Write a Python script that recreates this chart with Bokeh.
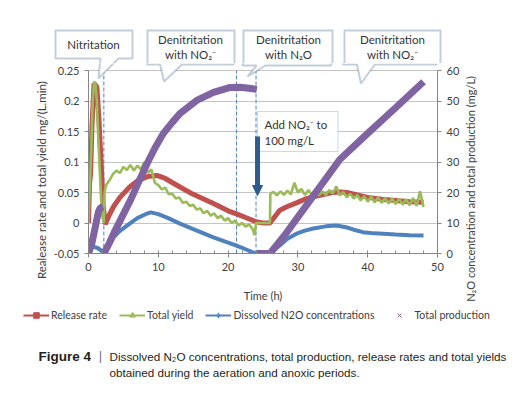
import math
import numpy as np
from bokeh.plotting import figure
from bokeh.layouts import column, row
from bokeh.models import (Range1d, LinearAxis, FixedTicker, CustomJSTickFormatter,
                          PolyAnnotation, Label, Arrow, NormalHead, Legend, LegendItem)
from bokeh.embed import file_html
from bokeh.resources import INLINE

nan = float("nan")

# ---------------- data ----------------
# Release rate, mg/(L.min)  (left axis)
release_t = [0, 0.15, 0.3, 0.5, 0.8, 1.2, 1.5, 1.8, 2.1, 2.4, 3.0, 3.6, 4.5, 5.9, 7.0, 8.4, 9.8,
             11.0, 13.1, 15.0, 17.9, 20.0, 21.2, 22.5, 24.0, 25.0, 26.0, 27.4, 28.5, 29.8, 31.0,
             32.2, 34.6, 36.0, 37.0, 38.5, 40.0, 42.0, 44.0, 46.0, 48.0]
release_v = [0, 0.065, 0.08, 0.16, 0.229, 0.223, 0.17, 0.10, 0.03, -0.002, 0.014, 0.027, 0.042,
             0.059, 0.069, 0.076, 0.078, 0.073, 0.059, 0.047, 0.032, 0.020, 0.015, 0.009, 0.002,
             0.0, 0.0, 0.021, 0.027, 0.033, 0.039, 0.043, 0.049, 0.051, 0.050, 0.046, 0.042,
             0.039, 0.037, 0.035, 0.034]

# Total yield, mg/(L.min)  (left axis)
yield_t = [0.0, 0.2, 0.4, 0.6, 0.8, 1.0, 1.2, 1.4, 1.6, 1.8, 2.0, 2.2, 2.3, 2.5, 3.0, 3.5, 4.0,
           4.5, 5.0, 5.5, 6.0, 6.5, 7.0, 7.5, 8.0, 8.5, 9.0, 9.5, 10.0, 10.5, 11.0, 11.5, 12.0,
           12.5, 13.0, 13.5, 14.0, 14.5, 15.0, 15.5, 16.0, 16.5, 17.0, 17.5, 18.0, 18.5, 19.0,
           19.5, 20.0, 20.5, 21.0, 21.5, 22.0, 22.5, 23.0, 23.5, 23.8, 24.0, 26.0, 26.05, 26.5,
           27.0, 27.5, 28.0, 28.5, 29.0, 29.5, 30.0, 30.5, 31.0, 31.5, 32.0, 32.5, 33.0, 33.5,
           34.0, 34.5, 35.0, 35.5, 36.0, 36.5, 37.0, 37.5, 38.0, 38.5, 39.0, 39.5, 40.0, 40.5,
           41.0, 41.5, 42.0, 42.5, 43.0, 43.5, 44.0, 44.5, 45.0, 45.5, 46.0, 46.5, 47.0, 47.5,
           48.0]
yield_v = [0.0, 0.06, 0.12, 0.20, 0.232, 0.228, 0.20, 0.14, 0.09, 0.04, 0.01, 0.0, 0.05, 0.062,
           0.07, 0.08, 0.086, 0.082, 0.092, 0.087, 0.095, 0.086, 0.094, 0.088, 0.10, 0.082,
           0.088, 0.066, 0.062, 0.055, 0.058, 0.047, 0.048, 0.040, 0.042, 0.033, 0.035, 0.028,
           0.030, 0.022, 0.024, 0.016, 0.020, 0.012, 0.016, 0.008, 0.012, 0.004, 0.008, 0.0,
           0.004, -0.004, 0.0, -0.006, -0.002, -0.010, -0.020, 0.0, 0.0, 0.048, 0.051, 0.045,
           0.052, 0.046, 0.053, 0.047, 0.066, 0.050, 0.056, 0.046, 0.054, 0.046, 0.053, 0.045,
           0.052, 0.046, 0.054, 0.048, 0.060, 0.045, 0.051, 0.042, 0.048, 0.040, 0.046, 0.037,
           0.044, 0.035, 0.043, 0.034, 0.042, 0.033, 0.041, 0.032, 0.040, 0.031, 0.040, 0.030,
           0.039, 0.029, 0.041, 0.028, 0.052, 0.026]

# Dissolved N2O concentration, mg/L  (right axis)
dissolved_t = [0, 0.3, 0.8, 1.3, 1.8, 2.2, 2.6, 3.6, 4.5, 5.9, 7.0, 8.4, 8.9, 10.0, 11.5, 13.1,
               15.0, 17.9, 20.0, 21.2, 22.5, 23.8, 24.5, 26.0, 27.4, 28.5, 29.8, 31.0, 32.2,
               34.0, 35.5, 36.9, 38.0, 39.3, 41.0, 44.0, 46.0, 48.0]
dissolved_v = [0.5, 1.8, 2.2, 1.8, 1.0, 0.0, 1.5, 5.3, 7.4, 9.8, 11.6, 13.1, 13.5, 12.9, 11.5,
               9.8, 8.0, 5.3, 3.6, 2.6, 1.4, 0.1, 0.0, 0.0, 2.6, 4.8, 6.5, 7.5, 8.2, 8.9, 9.2,
               8.6, 7.8, 7.0, 6.6, 6.2, 6.0, 5.9]

# Total production, mg/L  (right axis); nan separates the three periods
production_t = [0, 0.5, 1.0, 1.4, 1.7, 2.1, nan,
                2.2, 3.0, 3.6, 4.8, 6.0, 7.2, 8.4, 9.5, 10.7, 12.0, 13.1, 15.5, 17.9, 20.2,
                21.7, 23.0, 24.1, nan,
                24.1, 26.0, 28.1, 32.5, 36.0, 40.0, 44.0, 48.0]
production_v = [0, 3.5, 9.0, 13.5, 15.0, 15.3, nan,
                0, 3.5, 6.5, 12.0, 17.4, 23.5, 29.5, 34.5, 39.3, 43.0, 45.9, 50.2, 52.8, 54.4,
                54.5, 54.2, 53.8, nan,
                0, 0, 6.0, 19.8, 30.8, 39.4, 47.8, 56.3]

phase_lines = [2.2, 21.2, 24.0]
x_ticks = [0, 10, 20, 30, 40, 50]
left_ticks = [-0.05, 0, 0.05, 0.1, 0.15, 0.2, 0.25]
right_ticks = [0, 10, 20, 30, 40, 50, 60]

RED, GREEN, BLUE, PURPLE = "#c0504d", "#9bbb59", "#4f81bd", "#8064a2"
SHAPE = "#385d8a"
TXT = "#404040"
FONT = "Lato"

# ---------------- page layout (pixels) ----------------
TOP = 63          # main plot starts here (page y)
BOT = 305         # main plot ends here
PL, PR = 50, 462  # main plot left / right page x


def dx(px):
    return (px - 88) / 7.02


def dy(py):
    return -0.05 + (253 - py) / 183 * 0.30


def dr(py):
    return (253 - py) / 183 * 60


def strip(x0, x1, y0, y1):
    f = figure(width=x1 - x0, height=y1 - y0, output_backend="svg", toolbar_location=None,
               x_range=Range1d(x0, x1), y_range=Range1d(y1, y0),
               x_axis_type=None, y_axis_type=None, min_border=0, frame_align=False)
    f.outline_line_color = None
    f.grid.visible = False
    return f


# ---------------- main chart ----------------
p = figure(width=PR - PL, height=BOT - TOP, output_backend="svg", toolbar_location=None,
           x_range=Range1d(0, 50), y_range=Range1d(-0.05, dy(TOP)),
           min_border_left=88 - PL, min_border_right=PR - 439, min_border_top=0,
           min_border_bottom=BOT - 253, frame_align=False)
p.extra_y_ranges = {"right": Range1d(0, dr(TOP))}
p.outline_line_color = None

p.xaxis.ticker = FixedTicker(ticks=x_ticks, minor_ticks=list(range(2, 50, 2)))
p.xaxis.axis_label = "Time (h)"
p.yaxis.ticker = FixedTicker(ticks=left_ticks)
p.yaxis.bounds = (-0.05, 0.25)
p.yaxis.formatter = CustomJSTickFormatter(
    code="return tick.toFixed(2).replace(/0+$/,'').replace(/\\.$/,'')")
ra = LinearAxis(y_range_name="right", ticker=FixedTicker(ticks=right_ticks), bounds=(0, 60))
p.add_layout(ra, "right")
for ax in [p.xaxis[0], p.yaxis[0], ra]:
    ax.axis_line_color = "#868686"
    ax.major_tick_line_color = "#868686"
    ax.minor_tick_line_color = "#868686"
    ax.major_tick_in = 0
    ax.major_tick_out = 4
    ax.minor_tick_in = 3
    ax.minor_tick_out = 0
    ax.major_label_text_font = FONT
    ax.major_label_text_font_size = "11px"
    ax.major_label_text_color = TXT
    ax.axis_label_text_font = FONT
    ax.axis_label_text_font_size = "11px"
    ax.axis_label_text_font_style = "normal"
    ax.axis_label_text_color = TXT
p.yaxis[0].minor_tick_line_color = None
ra.minor_tick_line_color = None
p.xaxis.axis_label_standoff = 15

p.ygrid.ticker = FixedTicker(ticks=left_ticks)
p.ygrid.grid_line_color = "#c4c4c4"
p.xgrid.visible = False

p.segment(x0=phase_lines, y0=[left_ticks[0]] * 3, x1=phase_lines, y1=[left_ticks[-1]] * 3,
          line_color=BLUE, line_width=1, line_dash="4 2")

p.line(release_t, release_v, line_color=RED, line_width=5)
p.line(yield_t, yield_v, line_color=GREEN, line_width=2.6)
p.line(dissolved_t, dissolved_v, line_color=BLUE, line_width=4, y_range_name="right")
p.line(np.array(production_t, dtype=float), np.array(production_v, dtype=float),
       line_color=PURPLE, line_width=7, y_range_name="right")

# ---------------- callout strip above the chart ----------------
top = strip(0, 530, 0, TOP)

BUBBLES = [  # (left, top, right, bottom, tail) in page px; tail = (base1, base2, tipx, tipy)
    (55, 30, 132, 58, (100, 118, 98, 78)),
    (147, 30, 234, 64, (160, 182, 164, 81)),
    (243, 30, 332, 65, (257, 266, 248, 76)),
    (344, 30, 440, 64, (358, 376, 362, 83)),
]
BUBBLE_TEXT = [  # (x, y, text) in page px
    (93, 44, "Nitritation"),
    (190, 38.5, "Denitritation"), (190, 54, "with NO\u2082\u207b"),
    (288, 38.5, "Denitritation"), (288, 54, "with N\u2082O"),
    (392, 38.5, "Denitritation"), (392, 54, "with NO\u2082\u207b"),
]


def bubble_xy(l, t, r, b, tail):
    xs = [l, r, r]
    ys = [t, t, b]
    if tail:
        b1, b2, tx, ty = tail
        xs += [b2, tx, b1]
        ys += [b, ty, b]
    return xs + [l], ys + [b]


def ttxt(f, x, y, s, align="center", size="11.5px"):
    f.add_layout(Label(x=x, y=y, text=s, text_align=align, text_baseline="middle",
                       text_font=FONT, text_font_size=size, text_color="#333333"))


# each bubble is drawn in the strip and again in the chart, so the part that crosses
# the border between the two canvases is complete
for bb in BUBBLES:
    xs, ys = bubble_xy(*bb)
    top.add_layout(PolyAnnotation(xs=xs, ys=ys, fill_color="white", fill_alpha=1.0,
                                  line_color=SHAPE, line_width=2))
    p.add_layout(PolyAnnotation(xs=[dx(v) for v in xs], ys=[dy(v) for v in ys],
                                fill_color="white", fill_alpha=1.0, line_color=SHAPE,
                                line_width=2))
for (x, y, s) in BUBBLE_TEXT:
    ttxt(top, x, y, s)

# "Add NO2- to 100 mg/L" box and arrow inside the chart
xs, ys = bubble_xy(258, 111, 339, 151, None)
p.add_layout(PolyAnnotation(xs=[dx(v) for v in xs], ys=[dy(v) for v in ys],
                            fill_color="white", fill_alpha=1.0, line_color=BLUE, line_width=1))
ttxt(p, dx(265), dy(124), "Add NO\u2082\u207b to", align="left")
ttxt(p, dx(265), dy(140), "100 mg/L", align="left")
p.add_layout(Arrow(x_start=dx(258), y_start=dy(136), x_end=dx(258), y_end=dy(195),
                   line_color="#2f5b8e", line_width=5,
                   end=NormalHead(size=10, fill_color="#2f5b8e", line_color="#2f5b8e")))

# ---------------- axis-title strips ----------------
ls = strip(0, PL, TOP, BOT)
ls.add_layout(Label(x=41, y=178, text="Realease rate and total yield  mg/(L.min)",
                    angle=math.pi / 2, text_align="center", text_baseline="middle",
                    text_font=FONT, text_font_size="11.5px", text_color=TXT))
rs = strip(PR, 530, TOP, BOT)
rs.add_layout(Label(x=470, y=187, text="N\u2082O concentration and total production  (mg/L)",
                    angle=math.pi / 2, text_align="center", text_baseline="middle",
                    text_font=FONT, text_font_size="11px", text_color=TXT))

# ---------------- legend + caption strip ----------------
q = strip(0, 530, BOT, 395)
H2 = 395 - BOT
off = [-1000]
lr1 = q.line(off, off, line_color=RED, line_width=2)
lm1 = q.scatter(off, off, marker="square", size=5, color=RED)
lr2 = q.line(off, off, line_color=GREEN, line_width=2)
lm2 = q.scatter(off, off, marker="triangle", size=5, color=GREEN)
lr3 = q.line(off, off, line_color=BLUE, line_width=2)
lm3 = q.scatter(off, off, marker="cross", size=6, color=BLUE, line_width=1.5)
lm4 = q.scatter(off, off, marker="x", size=6, line_color=PURPLE, line_width=1)
legend = Legend(items=[LegendItem(label="Release rate", renderers=[lr1, lm1]),
                       LegendItem(label="Total yield", renderers=[lr2, lm2]),
                       LegendItem(label="Dissolved N2O concentrations", renderers=[lr3, lm3]),
                       LegendItem(label="Total production", renderers=[lm4])],
                orientation="horizontal", location=(23, H2 - 17), glyph_width=26,
                glyph_height=14, label_standoff=2, spacing=12, padding=0, margin=0,
                border_line_color=None, background_fill_alpha=0,
                label_text_font=FONT, label_text_font_size="10.5px", label_text_color=TXT)
q.add_layout(legend)

CAP = dict(text_baseline="middle", text_font="Liberation Sans", text_color="#231f20")
q.add_layout(Label(x=38, y=356, text="Figure 4", text_align="left", text_font_size="13.5px",
                   text_font_style="bold", **CAP))
q.add_layout(Label(x=100, y=355, text="|", text_align="center", text_font_size="13px",
                   **{**CAP, "text_color": "#777777"}))
q.add_layout(Label(x=109, y=356,
                   text="Dissolved N\u2082O concentrations, total production, release rates and total yields",
                   text_align="left", text_font_size="11.7px", **CAP))
q.add_layout(Label(x=109, y=372, text="obtained during the aeration and anoxic periods.",
                   text_align="left", text_font_size="11.7px", **CAP))

layout = column(top, row(ls, p, rs, spacing=0), q, spacing=0)
open("out.html", "w").write(file_html(layout, INLINE))
